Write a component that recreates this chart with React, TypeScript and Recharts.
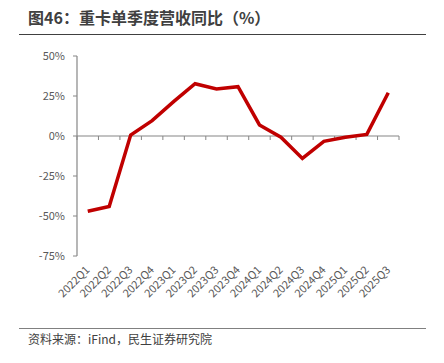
import React from 'react';
import { LineChart, Line, XAxis, YAxis, ReferenceLine } from 'recharts';

const quarters = ['2022Q1','2022Q2','2022Q3','2022Q4','2023Q1','2023Q2','2023Q3','2023Q4','2024Q1','2024Q2','2024Q3','2024Q4','2025Q1','2025Q2','2025Q3'];
const yoy = [-47, -44, 0.6, 9.6, 21.5, 32.7, 29.4, 30.8, 6.9, -0.8, -14, -3.3, -0.8, 1, 27];
const yTicks = [-75, -50, -25, 0, 25, 50];

const data = quarters.map((q, i) => ({ q, v: yoy[i] }));

const FONT = '"Noto Sans CJK SC", "Noto Sans", sans-serif';
const AXIS = '#868686';
const LABEL = '#595959';

const XTick = (props: any) => {
  const { x, y, payload } = props;
  return (
    <text
      x={x}
      y={y}
      transform={`rotate(-45, ${x}, ${y})`}
      textAnchor="end"
      dy="0.35em"
      fontSize={11}
      fill={LABEL}
      fontFamily={FONT}
    >
      {payload.value}
    </text>
  );
};

const ZeroLine = (props: any) => {
  const { x1, y1, x2 } = props;
  const n = quarters.length;
  const step = (x2 - x1) / n;
  const ticks = [];
  for (let i = 0; i <= n; i++) {
    const tx = x1 + i * step;
    ticks.push(<line key={i} x1={tx} x2={tx} y1={y1} y2={y1 + 4} stroke={AXIS} strokeWidth={1} />);
  }
  return (
    <g>
      <line x1={x1} x2={x2} y1={y1} y2={y1} stroke={AXIS} strokeWidth={1.2} />
      {ticks}
    </g>
  );
};

export default function App() {
  return (
    <div style={{ position: 'absolute', left: 0, top: 0, width: 444, height: 363, background: '#fff', fontFamily: FONT }}>
      <div style={{ position: 'absolute', left: 28, top: 5, fontSize: 16, fontWeight: 'bold', color: '#404040', whiteSpace: 'nowrap' }}>
        图46：重卡单季度营收同比（%）
      </div>
      <div style={{ position: 'absolute', left: 19, top: 34, width: 407, height: 1, background: '#404040' }} />
      <div style={{ position: 'absolute', left: 0, top: 0 }}>
        <LineChart width={444} height={320} data={data} margin={{ top: 56, right: 45, bottom: 0, left: 0 }}>
          <XAxis
            dataKey="q"
            scale="band"
            axisLine={false}
            tickLine={false}
            interval={0}
            height={64}
            tick={<XTick />}
            tickMargin={6}
          />
          <YAxis
            domain={[-75, 50]}
            ticks={yTicks}
            width={77}
            tickFormatter={(v: number) => `${v}%`}
            tick={{ fontSize: 11, fill: LABEL, fontFamily: FONT }}
            axisLine={{ stroke: AXIS, strokeWidth: 1.2 }}
            tickLine={{ stroke: AXIS }}
            tickSize={4}
            tickMargin={8}
            interval={0}
          />
          <ReferenceLine y={0} shape={<ZeroLine />} />
          <Line type="linear" dataKey="v" stroke="#C00000" strokeWidth={3.5} dot={false} isAnimationActive={false} />
        </LineChart>
      </div>
      <div style={{ position: 'absolute', left: 19, top: 328, width: 407, height: 1, background: '#808080' }} />
      <div style={{ position: 'absolute', left: 28, top: 330, fontSize: 12, color: '#404040', whiteSpace: 'nowrap' }}>
        资料来源：iFind，民生证券研究院
      </div>
    </div>
  );
}
